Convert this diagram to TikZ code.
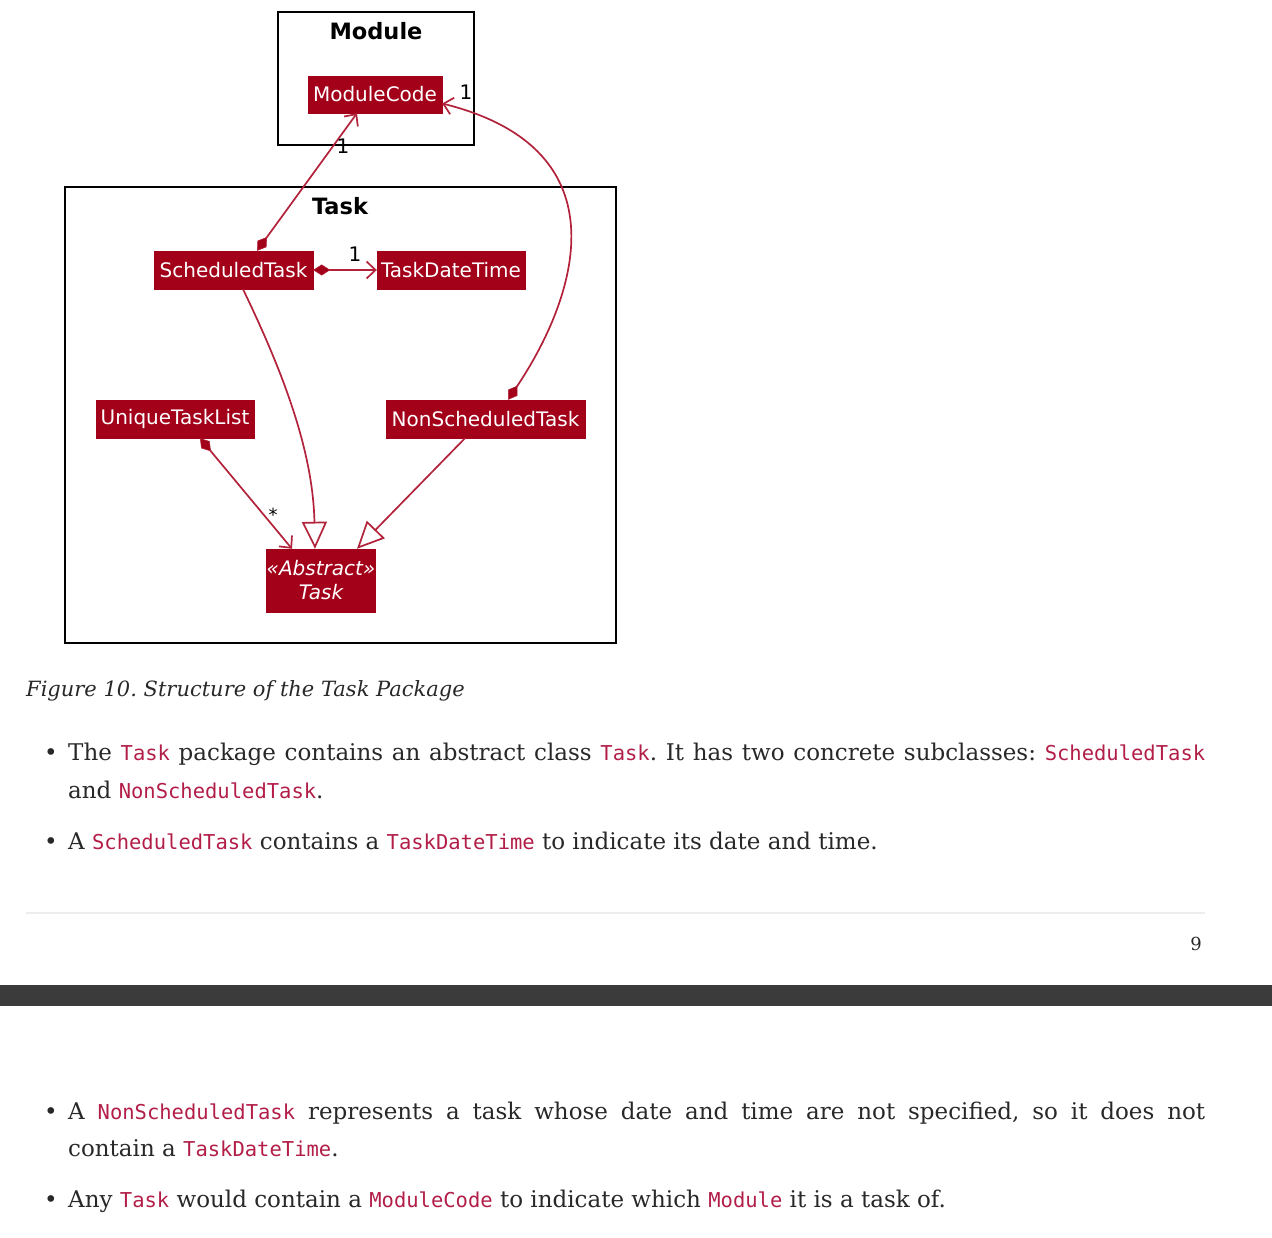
\documentclass[tikz,border=0pt]{standalone}
\usepackage{fontspec}
\setmainfont{DejaVu Serif}
\newfontfamily\codefont{DejaVu Sans Mono}
\newfontfamily\diafont{DejaVu Sans}
\usetikzlibrary{arrows.meta}
\frenchspacing
\definecolor{boxc}{RGB}{163,0,25}
\definecolor{linec}{RGB}{178,34,58}
\definecolor{codec}{RGB}{178,30,72}
\definecolor{bodyc}{RGB}{40,40,40}
\definecolor{bandc}{RGB}{58,59,58}
\newcommand\cde[1]{{\codefont\fontsize{20.5}{38}\selectfont\color{codec}#1}}
\tikzset{
  cls/.style={fill=boxc, draw=boxc, text=white, inner sep=0pt, font=\diafont\fontsize{20}{22}\selectfont},
  pkg/.style={draw=black, line width=2pt},
  pkgtitle/.style={font=\diafont\bfseries\fontsize{22.5}{24}\selectfont, inner sep=0pt},
  mult/.style={font=\diafont\fontsize{20}{22}\selectfont, inner sep=0pt},
  conn/.style={draw=linec, line width=1.7pt},
  comp/.style={conn, {Diamond[length=17pt,width=11pt,fill=boxc,line width=0.5pt]}-{Straight Barb[length=9pt,width=17pt,line width=1.7pt]}},
  inh/.style={conn, -{Triangle[open,length=27pt,width=25pt,fill=white,line width=1.7pt]}},
  txt/.style={inner sep=0pt, anchor=base west, text=bodyc, font=\frenchspacing\fontsize{23}{38}\selectfont},
  bul/.style={inner sep=0pt, anchor=base, text=bodyc, font=\fontsize{23}{38}\selectfont}
}
\begin{document}
\begin{tikzpicture}[x=1pt,y=-1pt]
\useasboundingbox (0,0) rectangle (1272,1238);
% packages
\draw[pkg] (278,12) rectangle (474,145);
\node[pkgtitle] (modt) at (376,31) {Module};
\draw[pkg] (65,187) rectangle (616,643);
\node[pkgtitle] (taskt) at (340,206) {Task};
% classes
\node[cls, minimum width=134pt, minimum height=37pt] (mc) at (375,94.5) {ModuleCode};
\node[cls, minimum width=159pt, minimum height=38pt] (st) at (233.5,270) {ScheduledTask};
\node[cls, minimum width=148pt, minimum height=38pt] (tdt) at (451,270) {TaskDateTime};
\node[cls, minimum width=158pt, minimum height=38pt] (utl) at (175,419) {UniqueTaskList};
\node[cls, minimum width=199pt, minimum height=38pt] (nst) at (485.5,419) {NonScheduledTask};
\node[cls, minimum width=108pt, minimum height=63pt, align=center, font=\diafont\itshape\fontsize{20}{24}\selectfont] (at) at (321,580.5) {«Abstract»\\Task};
% connectors
\draw[comp] ([xshift=23.5pt]st.north) -- ([xshift=-18pt]mc.south);
\draw[comp] ([xshift=22.5pt]nst.north) .. controls (575,300) and (628,150) .. ([yshift=-9pt]mc.east);
\draw[comp] (st.east) -- (tdt.west);
\draw[comp] ([xshift=25pt]utl.south) -- ([xshift=-29pt]at.north);
\draw[inh] ([xshift=9.5pt]st.south) .. controls (282,370) and (313,450) .. ([xshift=-6pt]at.north);
\draw[inh] ([xshift=-20.5pt]nst.south) -- ([xshift=36pt]at.north);
% multiplicities
\node[mult] (m1) at (343,146) {1};
\node[mult] (m2) at (466,92) {1};
\node[mult] (m3) at (355,254) {1};
\node[mult, font=\diafont\fontsize{18}{20}\selectfont] (m4) at (273,515) {*};
% caption and text
\node[txt, font=\itshape\fontsize{21}{38}\selectfont] (cap) at (26,696) {Figure 10. Structure of the Task Package};
\node[bul] (b1) at (51,760) {•};
\node[txt] (l1) at (68,760) {\makebox[1137pt][s]{The \cde{Task} package contains an abstract class \cde{Task}. It has two concrete subclasses: \cde{ScheduledTask}}};
\node[txt] (l2) at (68,798) {and \cde{NonScheduledTask}.};
\node[bul] (b2) at (51,849) {•};
\node[txt] (l3) at (68,849) {A \cde{ScheduledTask} contains a \cde{TaskDateTime} to indicate its date and time.};
\draw[draw=black!7, line width=1.2pt] (26,913) -- (1205,913);
\node[bul, font=\fontsize{18}{20}\selectfont] (pn) at (1196,950) {9};
\fill[bandc] (0,985) rectangle (1272,1006);
\node[bul] (b3) at (51,1119) {•};
\node[txt] (l4) at (68,1119) {\makebox[1137pt][s]{A \cde{NonScheduledTask} represents a task whose date and time are not specified, so it does not}};
\node[txt] (l5) at (68,1156) {contain a \cde{TaskDateTime}.};
\node[bul] (b4) at (51,1207) {•};
\node[txt] (l6) at (68,1207) {Any \cde{Task} would contain a \cde{ModuleCode} to indicate which \cde{Module} it is a task of.};
\end{tikzpicture}
\end{document}
